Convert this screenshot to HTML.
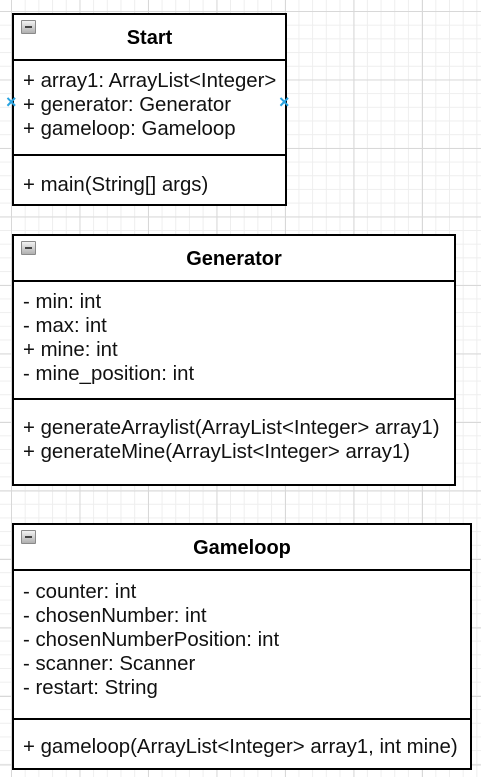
<!DOCTYPE html>
<html><head><style>
body{margin:0;width:481px;height:777px;overflow:hidden;background:#fff;
background-image:
linear-gradient(#d8d8d8 1px,transparent 1px),linear-gradient(90deg,#d8d8d8 1px,transparent 1px),
linear-gradient(#eeeeee 1px,transparent 1px),linear-gradient(90deg,#eeeeee 1px,transparent 1px);
background-size:68.5px 68.5px,68.5px 68.5px,13.7px 13.7px,13.7px 13.7px;
background-position:11px 11px,11px 11px,11px 11px,11px 11px;
font-family:"Liberation Sans",Arial,sans-serif;}
.box{position:absolute;border:2px solid #000;background:#fff;box-sizing:border-box}
.h{position:absolute;left:0;right:0;top:0;border-bottom:2px solid #000;text-align:center;font-weight:bold;font-size:20px}
.d{position:absolute;left:0;right:0;border-top:2px solid #000}
.t{position:absolute;left:9px;font-size:20.4px;line-height:24px;white-space:nowrap;color:#111}
.m{position:absolute;left:7px;top:5px;width:13px;height:12px;background:linear-gradient(#f2f2f2,#b0b0b0);border:1px solid #8a8a8a;border-radius:1px}
.m:after{content:"";position:absolute;left:3px;right:3px;top:5px;height:2px;background:#444}
.x{position:absolute;color:#29a3e0;font-size:18px;font-weight:bold}
</style></head><body>
<div class="box" style="left:12px;top:13px;width:275px;height:193px">
<div class="m"></div>
<div class="h" style="height:44px;line-height:46px">Start</div>
<div class="t" style="top:54px">+ array1: ArrayList&lt;Integer&gt;<br>+ generator: Generator<br>+ gameloop: Gameloop</div>
<div class="d" style="top:139px"></div>
<div class="t" style="top:158px">+ main(String[] args)</div>
</div>
<div class="x" style="left:6px;top:92px">×</div>
<div class="x" style="left:279px;top:92px">×</div>

<div class="box" style="left:12px;top:234px;width:444px;height:252px">
<div class="m"></div>
<div class="h" style="height:44px;line-height:46px">Generator</div>
<div class="t" style="top:54px">- min: int<br>- max: int<br>+ mine: int<br>- mine_position: int</div>
<div class="d" style="top:162px"></div>
<div class="t" style="top:180px">+ generateArraylist(ArrayList&lt;Integer&gt; array1)<br>+ generateMine(ArrayList&lt;Integer&gt; array1)</div>
</div>

<div class="box" style="left:12px;top:523px;width:460px;height:247px">
<div class="m"></div>
<div class="h" style="height:44px;line-height:46px">Gameloop</div>
<div class="t" style="top:55px">- counter: int<br>- chosenNumber: int<br>- chosenNumberPosition: int<br>- scanner: Scanner<br>- restart: String</div>
<div class="d" style="top:193px"></div>
<div class="t" style="top:210px">+ gameloop(ArrayList&lt;Integer&gt; array1, int mine)</div>
</div>
</body></html>
